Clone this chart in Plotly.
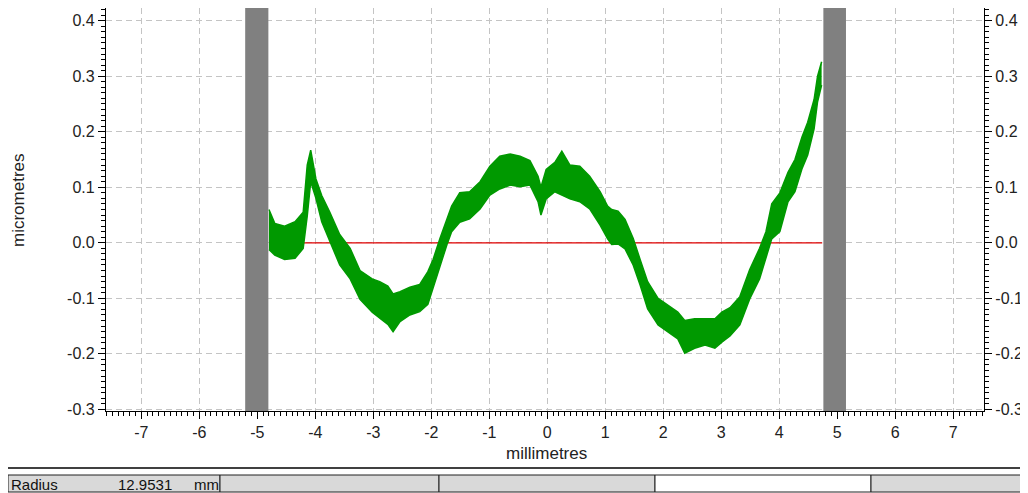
import plotly.graph_objects as go

# ---------------- data ----------------
x_mm = [-4.80, -4.70, -4.53, -4.35, -4.21, -4.14, -4.08, -3.99, -3.89, -3.75,
        -3.58, -3.40, -3.23, -3.02, -2.89, -2.75, -2.66, -2.54, -2.37, -2.20,
        -2.06, -1.97, -1.85, -1.73, -1.65, -1.51, -1.34, -1.16, -0.99, -0.82,
        -0.64, -0.47, -0.30, -0.16, -0.11, -0.02, 0.13, 0.25, 0.39, 0.56,
        0.73, 0.91, 1.04, 1.11, 1.22, 1.34, 1.48, 1.60, 1.73, 1.91,
        2.08, 2.25, 2.37, 2.54, 2.72, 2.89, 3.01, 3.15, 3.32, 3.49,
        3.66, 3.77, 3.87, 4.01, 4.15, 4.27, 4.39, 4.49, 4.60, 4.66, 4.73]
upper_um = [0.060, 0.035, 0.030, 0.038, 0.055, 0.140, 0.167, 0.115, 0.085, 0.055,
            0.015, -0.010, -0.050, -0.065, -0.070, -0.078, -0.092, -0.088, -0.080, -0.075,
            -0.052, -0.030, 0.008, 0.042, 0.066, 0.090, 0.092, 0.110, 0.138, 0.156,
            0.160, 0.156, 0.148, 0.120, 0.100, 0.132, 0.145, 0.165, 0.140, 0.138,
            0.120, 0.092, 0.066, 0.060, 0.057, 0.042, 0.008, -0.030, -0.070, -0.100,
            -0.113, -0.125, -0.140, -0.137, -0.137, -0.137, -0.125, -0.117, -0.097, -0.048,
            -0.010, 0.020, 0.070, 0.090, 0.127, 0.150, 0.190, 0.217, 0.258, 0.300, 0.326]
lower_um = [-0.012, -0.022, -0.030, -0.028, -0.010, 0.048, 0.110, 0.080, 0.038, 0.003,
            -0.040, -0.065, -0.102, -0.125, -0.136, -0.147, -0.160, -0.142, -0.130, -0.124,
            -0.111, -0.082, -0.040, -0.003, 0.020, 0.037, 0.043, 0.061, 0.086, 0.097,
            0.104, 0.101, 0.104, 0.074, 0.050, 0.079, 0.092, 0.086, 0.079, 0.074,
            0.061, 0.032, 0.007, -0.003, -0.002, -0.011, -0.040, -0.076, -0.119, -0.148,
            -0.161, -0.173, -0.199, -0.190, -0.184, -0.190, -0.179, -0.168, -0.148, -0.101,
            -0.065, -0.029, 0.007, 0.020, 0.074, 0.092, 0.133, 0.158, 0.205, 0.254, 0.284]

baseline_x = [-4.80, 4.74]
baseline_y = [0.0, 0.0]

excluded_zones = [(-5.21, -4.81), (4.76, 5.15)]

x_ticks = [-7, -6, -5, -4, -3, -2, -1, 0, 1, 2, 3, 4, 5, 6, 7]
x_tick_labels = ["-7", "-6", "-5", "-4", "-3", "-2", "-1", "0", "1", "2", "3", "4", "5", "6", "7"]
y_ticks = [-0.3, -0.2, -0.1, 0.0, 0.1, 0.2, 0.3, 0.4]
y_tick_labels = ["-0.3", "-0.2", "-0.1", "0.0", "0.1", "0.2", "0.3", "0.4"]

x_title = "millimetres"
y_title = "micrometres"
status_label = "Radius"
status_value = "12.9531"
status_unit = "mm"

# ---------------- layout geometry ----------------
# The page body has an 8px margin, so the figure is drawn at (8, 8).
OFF = 8
W, H = 1028 - OFF, 493 - OFF
PL, PR, PT, PB = 106, 984, 8, 411          # plot area in page pixels
L, R, T, B = PL - OFF, PR - OFF, PT - OFF, PB - OFF
X_RANGE = [-7.61, 7.53]
Y_RANGE = [-0.303, 0.4229]


def px(xp):
    return (xp - PL) / (PR - PL)


def py(yp):
    return (PB - yp) / (PB - PT)


FONT = "Liberation Sans, Arial, sans-serif"
GREEN = "#009900"

fig = go.Figure()

fig.add_trace(go.Scatter(x=baseline_x, y=baseline_y, mode="lines",
                         line=dict(color="#e00000", width=1.2),
                         showlegend=False, hoverinfo="skip"))
fig.add_trace(go.Scatter(x=x_mm, y=lower_um, mode="lines",
                         line=dict(color=GREEN, width=1.5),
                         showlegend=False, hoverinfo="skip"))
fig.add_trace(go.Scatter(x=x_mm, y=upper_um, mode="lines",
                         line=dict(color=GREEN, width=1.5),
                         fill="tonexty", fillcolor=GREEN,
                         showlegend=False, hoverinfo="skip"))
fig.add_trace(go.Scatter(x=[None], y=[None], yaxis="y2",
                         showlegend=False, hoverinfo="skip"))

shapes = []
for x0, x1 in excluded_zones:
    shapes.append(dict(type="rect", xref="x", yref="paper", x0=x0, x1=x1, y0=0, y1=1,
                       fillcolor="#808080", line=dict(width=0), layer="above"))

# status bar
shapes.append(dict(type="line", xref="paper", yref="paper",
                   x0=px(8), x1=px(1028), y0=py(468), y1=py(468),
                   line=dict(color="#404040", width=2)))
cells = [(8, 220, "#d9d9d9"), (220, 439, "#d9d9d9"), (439, 655, "#d9d9d9"),
         (655, 871, "#ffffff"), (871, 1030, "#d9d9d9")]
for c0, c1, col in cells:
    shapes.append(dict(type="rect", xref="paper", yref="paper",
                       x0=px(c0), x1=px(c1), y0=py(492), y1=py(475),
                       fillcolor=col, line=dict(color="#202020", width=1)))

annotations = [
    dict(text=x_title, xref="paper", yref="paper", x=px(546), y=py(453),
         showarrow=False, xanchor="center", yanchor="middle",
         font=dict(family=FONT, size=17, color="#222")),
    dict(text=y_title, xref="paper", yref="paper", x=px(18), y=py(200),
         showarrow=False, xanchor="center", yanchor="middle", textangle=-90,
         font=dict(family=FONT, size=17, color="#222")),
    dict(text=status_label, xref="paper", yref="paper", x=px(9), y=py(484),
         showarrow=False, xanchor="left", yanchor="middle",
         font=dict(family=FONT, size=15, color="#111")),
    dict(text=status_value, xref="paper", yref="paper", x=px(174), y=py(484),
         showarrow=False, xanchor="right", yanchor="middle",
         font=dict(family=FONT, size=15, color="#111")),
    dict(text=status_unit, xref="paper", yref="paper", x=px(192), y=py(484),
         showarrow=False, xanchor="left", yanchor="middle",
         font=dict(family=FONT, size=15, color="#111")),
]

axis_common = dict(showline=True, linecolor="black", linewidth=1.2,
                   ticks="outside", ticklen=7, tickcolor="black", tickwidth=1,
                   tickfont=dict(family=FONT, size=16, color="#222"),
                   ticklabelstandoff=0,
                   zeroline=False, automargin=False)

fig.update_layout(
    width=W, height=H,
    margin=dict(l=L, r=W - R, t=T, b=H - B, pad=0, autoexpand=False),
    paper_bgcolor="white", plot_bgcolor="white",
    showlegend=False,
    shapes=shapes,
    annotations=annotations,
    xaxis=dict(range=X_RANGE, tickmode="array", tickvals=x_ticks, ticktext=x_tick_labels,
               showgrid=True, gridcolor="#c4c4c4", griddash="6px,4px", gridwidth=1,
               mirror=True,
               minor=dict(dtick=0.1, tick0=0, ticks="outside", ticklen=4,
                          tickcolor="black", showgrid=False),
               **axis_common),
    yaxis=dict(range=Y_RANGE, tickmode="array", tickvals=y_ticks, ticktext=y_tick_labels,
               showgrid=True, gridcolor="#c4c4c4", griddash="6px,4px", gridwidth=1,
               minor=dict(dtick=0.01, tick0=0, ticks="outside", ticklen=4,
                          tickcolor="black", showgrid=False),
               **axis_common),
    yaxis2=dict(range=Y_RANGE, overlaying="y", side="right", tickmode="array",
                tickvals=y_ticks, ticktext=y_tick_labels, showgrid=False,
                minor=dict(dtick=0.01, tick0=0, ticks="outside", ticklen=4,
                           tickcolor="black", showgrid=False),
                **axis_common),
)

fig.write_html("out.html")
